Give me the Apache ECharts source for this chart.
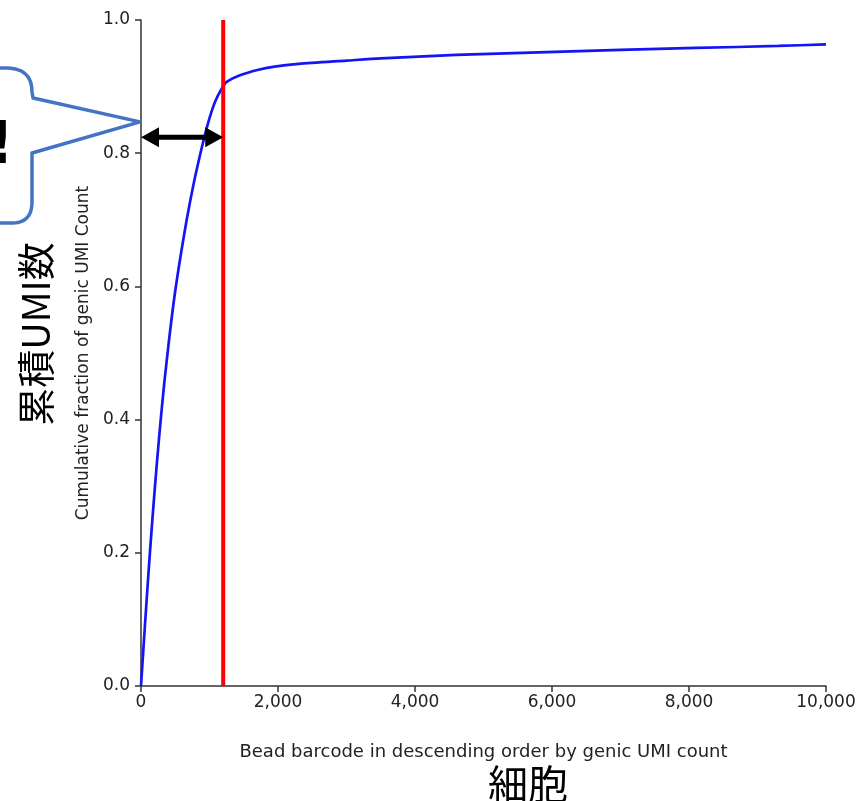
<!DOCTYPE html>
<html>
<head>
<meta charset="utf-8">
<script src="https://cdn.jsdelivr.net/npm/echarts@6/dist/echarts.min.js"></script>
<style>
html,body{margin:0;padding:0;background:#fff;}
#c{width:863px;height:801px;}
</style>
</head>
<body>
<div id="c"></div>
<script>
// Data
var barcodeRank = [0, 60, 130, 200, 270, 340, 410, 482, 569, 667, 764, 861, 934, 1007, 1080, 1178, 1251, 1445, 1700, 1950, 2300, 3000, 3500, 4600, 5800, 7000, 8100, 9300, 10000];
var cumFraction = [0, 0.095, 0.2, 0.295, 0.38, 0.455, 0.52, 0.58, 0.64, 0.70, 0.752, 0.797, 0.828, 0.855, 0.877, 0.897, 0.907, 0.917, 0.925, 0.930, 0.934, 0.939, 0.9425, 0.9475, 0.9515, 0.955, 0.958, 0.961, 0.9635];
var cutoffRank = 1200;
var cutoffLine = [[cutoffRank, 0], [cutoffRank, 1]];
var arrowLevel = 0.824;
var calloutTipLevel = 0.847;
var xAxisTitle = 'Bead barcode in descending order by genic UMI count';
var yAxisTitle = 'Cumulative fraction of genic UMI Count';
var yNote = '累積UMI数';
var xNote = '細胞';
var calloutText = '!';

var curve = barcodeRank.map(function (x, i) { return [x, cumFraction[i]]; });

var chart = echarts.init(document.getElementById('c'), null, {renderer: 'canvas'});
var axisColor = '#333';
var font = 'DejaVu Sans';
chart.setOption({
  animation: false,
  backgroundColor: '#fff',
  grid: {left: 141, right: 37, top: 20, bottom: 115, containLabel: false},
  xAxis: {
    type: 'value', min: 0, max: 10000, interval: 2000,
    name: xAxisTitle, nameLocation: 'middle', nameGap: 57,
    nameTextStyle: {fontFamily: font, fontSize: 18, color: '#222'},
    axisLine: {lineStyle: {color: axisColor, width: 1.5}},
    axisTick: {show: true, length: 6, lineStyle: {color: axisColor, width: 1.5}},
    axisLabel: {fontFamily: font, fontSize: 17, color: '#222', margin: 8,
      formatter: function (v) { return v.toLocaleString('en-US'); }},
    splitLine: {show: false}
  },
  yAxis: {
    type: 'value', min: 0, max: 1, interval: 0.2,
    name: yAxisTitle, nameLocation: 'middle', nameGap: 44, nameRotate: 90,
    nameTextStyle: {fontFamily: font, fontSize: 17, color: '#222'},
    axisLine: {show: true, lineStyle: {color: axisColor, width: 1.5}},
    axisTick: {show: true, length: 6, lineStyle: {color: axisColor, width: 1.5}},
    axisLabel: {fontFamily: font, fontSize: 17, color: '#222', margin: 11,
      formatter: function (v) { return v.toFixed(1); }},
    splitLine: {show: false}
  },
  series: [
    {type: 'line', data: curve, smooth: 0.25, showSymbol: false,
      lineStyle: {color: '#1414f5', width: 2.7}, z: 2},
    {type: 'line', data: cutoffLine, showSymbol: false,
      lineStyle: {color: '#ff0000', width: 4}, z: 3}
  ]
});

function quad(p0, c, p1, n) {
  var out = [];
  for (var i = 1; i <= n; i++) {
    var t = i / n, u = 1 - t;
    out.push([u * u * p0[0] + 2 * u * t * c[0] + t * t * p1[0], u * u * p0[1] + 2 * u * t * c[1] + t * t * p1[1]]);
  }
  return out;
}

function drawOverlay() {
  var pL = chart.convertToPixel({gridIndex: 0}, [0, arrowLevel]);
  var pR = chart.convertToPixel({gridIndex: 0}, [cutoffRank, arrowLevel]);
  var tip = chart.convertToPixel({gridIndex: 0}, [0, calloutTipLevel]);
  var L = pL[0], R = pR[0], y = pL[1];
  var hl = 18, hh = 10, st = 2.5;
  var arrowPts = [[L, y], [L + hl, y - hh], [L + hl, y - st], [R - hl, y - st], [R - hl, y - hh], [R, y],
    [R - hl, y + hh], [R - hl, y + st], [L + hl, y + st], [L + hl, y + hh]];
  var tx = tip[0] - 1, ty = tip[1];
  var pts = [[-10, 68], [8, 68]];
  pts = pts.concat(quad([8, 68], [32, 69], [32, 92], 10));
  pts.push([33, 98], [tx, ty], [32, 153], [32, 202]);
  pts = pts.concat(quad([32, 202], [32, 223], [12, 223], 10));
  pts.push([-10, 223]);
  chart.setOption({
    graphic: [
      {type: 'polygon', shape: {points: pts}, style: {fill: '#fff', stroke: '#4472c4', lineWidth: 3.5, lineJoin: 'round'}, z: 50},
      {type: 'text', z: 51, style: {text: calloutText, x: 14, y: 148, fontSize: 58, fontWeight: 'bold', fill: '#000',
        fontFamily: 'DejaVu Sans', align: 'right', verticalAlign: 'middle'}},
      {type: 'polygon', shape: {points: arrowPts}, style: {fill: '#000'}, z: 52},
      {type: 'text', x: 36, y: 334, rotation: Math.PI / 2,
        style: {text: yNote, fontSize: 38, fill: '#000', fontFamily: 'Noto Sans CJK JP', align: 'center', verticalAlign: 'middle'}, z: 53},
      {type: 'text', style: {text: xNote, x: 528, y: 784, fontSize: 40, fill: '#000', fontFamily: 'Noto Sans CJK JP', align: 'center', verticalAlign: 'middle'}, z: 53}
    ]
  });
}
drawOverlay();
</script>
</body>
</html>
